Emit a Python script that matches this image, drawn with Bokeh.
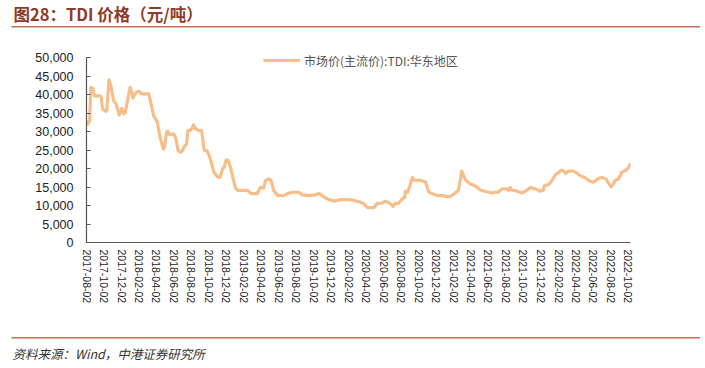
import math
import pandas as pd
from bokeh.plotting import figure
from bokeh.layouts import column
from bokeh.models import (Range1d, FixedTicker, NumeralTickFormatter, DatetimeTickFormatter,
                          Label, BoxAnnotation, Legend, LegendItem, ColumnDataSource)
from bokeh.embed import file_html
from bokeh.resources import INLINE

title_text = "图28：TDI 价格（元/吨）"
source_text = "资料来源：Wind，中港证券研究所"
series_name = "市场价(主流价):TDI:华东地区"

dates = [
    "2017-08-04", "2017-08-08", "2017-08-13", "2017-08-17", "2017-08-22", "2017-08-24", "2017-08-29",
    "2017-09-16", "2017-09-22", "2017-09-27", "2017-10-09", "2017-10-12", "2017-10-19", "2017-10-26",
    "2017-11-04", "2017-11-13", "2017-11-24", "2017-12-03", "2017-12-10", "2017-12-15", "2018-01-01",
    "2018-01-07", "2018-01-11", "2018-01-18", "2018-01-28", "2018-02-03", "2018-02-09", "2018-03-07",
    "2018-03-15", "2018-03-24", "2018-04-06", "2018-04-15", "2018-04-27", "2018-05-01", "2018-05-08",
    "2018-05-12", "2018-05-19", "2018-06-01", "2018-06-09", "2018-06-17", "2018-06-26", "2018-07-01",
    "2018-07-10", "2018-07-17", "2018-07-21", "2018-07-28", "2018-08-03", "2018-08-10", "2018-08-17",
    "2018-08-29", "2018-09-07", "2018-09-16", "2018-09-25", "2018-10-01", "2018-10-09", "2018-10-20",
    "2018-11-01", "2018-11-10", "2018-11-19", "2018-11-24", "2018-12-01", "2018-12-08", "2018-12-17",
    "2018-12-26", "2019-01-04", "2019-01-12", "2019-02-14", "2019-02-26", "2019-03-19", "2019-03-30",
    "2019-04-11", "2019-04-18", "2019-04-29", "2019-05-07", "2019-05-16", "2019-05-30", "2019-06-20",
    "2019-07-07", "2019-07-24", "2019-08-11", "2019-08-23", "2019-09-16", "2019-10-09", "2019-10-20",
    "2019-11-01", "2019-11-19", "2019-12-12", "2020-01-05", "2020-02-03", "2020-02-20", "2020-03-13",
    "2020-03-24", "2020-04-06", "2020-04-29", "2020-05-10", "2020-05-27", "2020-06-09", "2020-06-24",
    "2020-07-05", "2020-07-13", "2020-07-24", "2020-08-06", "2020-08-14", "2020-08-17", "2020-08-25",
    "2020-09-02", "2020-09-10", "2020-09-16", "2020-09-25", "2020-10-06", "2020-10-18", "2020-10-26",
    "2020-11-01", "2020-11-07", "2020-11-19", "2020-12-06", "2020-12-23", "2021-01-10", "2021-01-22",
    "2021-02-03", "2021-02-17", "2021-02-24", "2021-03-01", "2021-03-07", "2021-03-16", "2021-03-30",
    "2021-04-14", "2021-04-25", "2021-05-05", "2021-05-22", "2021-06-15", "2021-06-26", "2021-07-07",
    "2021-07-19", "2021-08-04", "2021-08-12", "2021-08-17", "2021-08-23", "2021-09-10", "2021-09-27",
    "2021-10-09", "2021-10-28", "2021-11-13", "2021-11-28", "2021-12-10", "2021-12-14", "2021-12-29",
    "2022-01-10", "2022-01-22", "2022-02-03", "2022-02-12", "2022-02-20", "2022-02-26", "2022-03-07",
    "2022-03-24", "2022-04-08", "2022-04-17", "2022-05-05", "2022-05-22", "2022-06-03", "2022-06-17",
    "2022-07-01", "2022-07-17", "2022-07-26", "2022-08-04", "2022-08-12", "2022-08-17", "2022-08-29",
    "2022-09-10", "2022-09-25", "2022-10-03", "2022-10-11",
]
prices = [
    33000, 32100, 33000, 42000, 40600, 41800, 39700,
    39700, 39500, 36100, 35500, 35700, 44000, 42400,
    38400, 37500, 34500, 36300, 34800, 35200, 42000,
    40600, 39100, 40200, 40900, 40800, 40200, 40200,
    37500, 34300, 32500, 28500, 25300, 25800, 29800,
    30100, 29200, 29400, 28300, 24900, 24400, 24700,
    26200, 26700, 30300, 30300, 30700, 31800, 30700,
    30300, 30300, 24900, 24900, 24000, 22200, 19000,
    17800, 17600, 19900, 20300, 22300, 22300, 20300,
    17200, 14500, 14100, 14100, 13200, 13200, 14900,
    14800, 16800, 17200, 16800, 14100, 12700, 12700,
    13400, 13600, 13600, 12900, 12700, 12900, 13300,
    12700, 11800, 11200, 11600, 11600, 11400, 10900,
    10500, 9500, 9400, 10500, 10700, 11200, 10600,
    9800, 10600, 10600, 11800, 12200, 13900, 13600,
    15400, 17600, 16900, 16800, 16900, 16600, 16300,
    14900, 13600, 13200, 12700, 12700, 12400, 12500,
    13200, 14100, 16800, 19300, 18100, 16800, 15900,
    15400, 14900, 14200, 13800, 13400, 13600, 13600,
    14500, 14500, 14100, 14900, 14200, 13900, 13400,
    13900, 14900, 14500, 13900, 14100, 15400, 15700,
    16800, 18400, 19000, 19600, 19300, 18700, 19300,
    19300, 18700, 18100, 17500, 16600, 16300, 17200,
    17600, 17200, 16000, 15100, 15900, 16800, 17200,
    19000, 19600, 20300, 21500,
]
x_tick_labels = [
    "2017-08-02", "2017-10-02", "2017-12-02", "2018-02-02", "2018-04-02", "2018-06-02", "2018-08-02",
    "2018-10-02", "2018-12-02", "2019-02-02", "2019-04-02", "2019-06-02", "2019-08-02", "2019-10-02",
    "2019-12-02", "2020-02-02", "2020-04-02", "2020-06-02", "2020-08-02", "2020-10-02", "2020-12-02",
    "2021-02-02", "2021-04-02", "2021-06-02", "2021-08-02", "2021-10-02", "2021-12-02", "2022-02-02",
    "2022-04-02", "2022-06-02", "2022-08-02", "2022-10-02",
]
y_ticks = [0, 5000, 10000, 15000, 20000, 25000, 30000, 35000, 40000, 45000, 50000]

def ms(s):
    return pd.Timestamp(s).value / 1e6

W = 700
H_TOP, H_MAIN, H_BOT = 32, 298, 36
RULE = "#C8705A"

def blank(h):
    f = figure(width=W, height=h, output_backend="svg", toolbar_location=None,
               x_range=Range1d(0, W), y_range=Range1d(h, 0),
               x_axis_location=None, y_axis_location=None,
               min_border=0, min_border_left=0, min_border_right=0,
               min_border_top=0, min_border_bottom=0)
    f.frame_align = False
    f.outline_line_color = None
    f.grid.visible = False
    return f

# ---- header (title + rule) ----
top = blank(H_TOP)
top.add_layout(Label(x=13, y=13.5, text=title_text, text_font="Noto Sans CJK SC",
                     text_font_style="bold", text_font_size="16.5px", text_color="#8E3B2A",
                     text_baseline="middle", text_align="left"))
top.add_layout(BoxAnnotation(left=11, right=W, top=25.6, bottom=27.0,
                             fill_color=RULE, fill_alpha=1, line_color=None))

# ---- main chart ----
src = ColumnDataSource(dict(x=pd.to_datetime(dates), y=prices))
frame_top, frame_bottom = 48 - H_TOP, 242 - H_TOP
p = figure(width=W, height=H_MAIN, output_backend="svg", toolbar_location=None,
           x_axis_type="datetime",
           x_range=Range1d(ms("2017-08-02"), ms("2022-10-10")),
           y_range=Range1d(0, 52500),
           min_border_left=86, min_border_right=W - 630,
           min_border_top=frame_top, min_border_bottom=H_MAIN - frame_bottom)
p.frame_align = False
p.outline_line_color = None
p.grid.visible = False

r = p.line("x", "y", source=src, line_color="#F8BE8A", line_width=3.2, line_join="round")

xa = p.xaxis[0]
xa.ticker = FixedTicker(ticks=[ms(s) for s in x_tick_labels])
xa.formatter = DatetimeTickFormatter(days="%Y-%m-%d", months="%Y-%m-%d", years="%Y-%m-%d",
                                     hours="%Y-%m-%d", minutes="%Y-%m-%d")
xa.major_label_orientation = -math.pi / 2
xa.major_tick_in = 0
xa.major_tick_out = 0
xa.minor_tick_in = 0
xa.minor_tick_out = 0
xa.axis_line_color = "#555555"
xa.axis_line_width = 1.2
xa.major_label_text_font = "Liberation Sans"
xa.major_label_text_font_size = "10.5px"
xa.major_label_text_color = "#222222"
xa.major_label_standoff = 7

ya = p.yaxis[0]
ya.ticker = FixedTicker(ticks=y_ticks)
ya.bounds = (0, 50000)
ya.formatter = NumeralTickFormatter(format="0,0")
ya.major_tick_in = 4
ya.major_tick_out = 0
ya.minor_tick_in = 0
ya.minor_tick_out = 0
ya.axis_line_color = "#555555"
ya.axis_line_width = 1.2
ya.major_tick_line_color = "#555555"
ya.major_label_text_font = "Liberation Sans"
ya.major_label_text_font_size = "12.5px"
ya.major_label_text_color = "#222222"
ya.major_label_standoff = 13

legend = Legend(items=[LegendItem(label=series_name, renderers=[r])],
                location=(177, 172), padding=0, margin=0, spacing=0,
                border_line_color=None, background_fill_alpha=0,
                glyph_width=37, glyph_height=20, label_standoff=4,
                label_text_font="Noto Sans CJK SC", label_text_font_size="12px",
                label_text_color="#555555")
p.add_layout(legend, "center")

# ---- footer (rule + source) ----
bot = blank(H_BOT)
bot.add_layout(BoxAnnotation(left=11, right=W, top=6.6, bottom=8.0,
                             fill_color=RULE, fill_alpha=1, line_color=None))
bot.add_layout(Label(x=12, y=23, text=source_text, text_font="Noto Sans CJK SC",
                     text_font_style="italic", text_font_size="12.5px", text_color="#333333",
                     text_baseline="middle", text_align="left"))

page = column(top, p, bot, spacing=0)
open("out.html", "w").write(file_html(page, INLINE))
